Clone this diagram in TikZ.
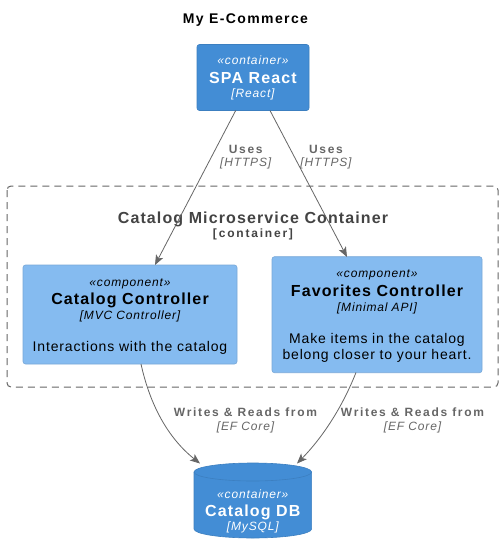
\documentclass[tikz,border=0pt]{standalone}
\usepackage{fontspec}
\setmainfont{Liberation Sans}[LetterSpace=7]
\newfontfamily\relfont{Liberation Sans}[LetterSpace=14]
\newfontfamily\smallbfont{Liberation Sans}[LetterSpace=15]
\newfontfamily\titlefont{Liberation Sans}[LetterSpace=10]
\newfontfamily\descfont{Liberation Sans}[LetterSpace=6]
\usetikzlibrary{arrows.meta}
\definecolor{contblue}{HTML}{438DD5}
\definecolor{contborder}{HTML}{3C7FC0}
\definecolor{compblue}{HTML}{85BBF0}
\definecolor{compborder}{HTML}{78A8D8}
\definecolor{relgray}{HTML}{666666}
\definecolor{bndgray}{HTML}{444444}
\begin{document}
\begin{tikzpicture}[x=1pt,y=-1pt,
  container/.style={draw=contborder,fill=contblue,rounded corners=2.5pt,line width=0.6pt},
  component/.style={draw=compborder,fill=compblue,rounded corners=2.5pt,line width=0.6pt},
  txt/.style={anchor=base,inner sep=0pt,outer sep=0pt},
  stereo/.style={txt,font=\fontsize{12}{14}\selectfont\itshape},
  techn/.style={txt,font=\fontsize{12}{14}\selectfont\itshape},
  bigname/.style={txt,font=\fontsize{16}{19}\selectfont\bfseries},
  desc/.style={txt,font=\fontsize{14}{16}\descfont},
  rellabel/.style={txt,text=relgray,font=\fontsize{12}{14}\relfont\bfseries},
  reltech/.style={txt,text=relgray,font=\fontsize{12}{14}\selectfont\itshape},
  rel/.style={draw=relgray,line width=0.8pt,-{Stealth[length=10pt,width=8pt,inset=2.5pt]}},
  boundary/.style={draw=relgray,line width=1pt,dash pattern=on 7pt off 5pt,rounded corners=4pt}
]
\useasboundingbox (0,0) rectangle (504,555);
\fill[white] (0,0) rectangle (504,555);

% title
\node[txt,font=\fontsize{14}{16}\titlefont\bfseries] (title) at (245.5,23.3) {My E-Commerce};

% boundary
\draw[boundary] (7,186) rectangle (498,387);
\node[txt,text=bndgray,font=\fontsize{16}{19}\selectfont\bfseries] (bndtitle) at (253,223) {Catalog Microservice Container};
\node[txt,text=bndgray,font=\fontsize{12}{14}\smallbfont\bfseries] (bndtype) at (253,237) {[container]};

% SPA React
\node[container,minimum width=112pt,minimum height=66pt,inner sep=0pt] (spa) at (253,77.5) {};
\node[stereo,text=white] (spast) at (253,64) {«container»};
\node[bigname,text=white] (spaname) at (253,83) {SPA React};
\node[techn,text=white] (spatech) at (253,97) {[React]};

% Catalog Controller
\node[component,minimum width=214pt,minimum height=99pt,inner sep=0pt] (cc) at (130,314.5) {};
\node[stereo] (ccst) at (130,286) {«component»};
\node[bigname] (ccname) at (130,304) {Catalog Controller};
\node[techn] (cctech) at (130,319) {[MVC Controller]};
\node[desc] (ccdesc) at (130,351) {Interactions with the catalog};

% Favorites Controller
\node[component,minimum width=210pt,minimum height=116pt,inner sep=0pt] (fc) at (377,314.7) {};
\node[stereo] (fcst) at (377,277.5) {«component»};
\node[bigname] (fcname) at (377,296.5) {Favorites Controller};
\node[techn] (fctech) at (377,311) {[Minimal API]};
\node[desc] (fcdesc1) at (377,343.5) {Make items in the catalog};
\node[desc] (fcdesc2) at (377,359.5) {belong closer to your heart.};

% Catalog DB cylinder (y axis points down: angle 270 is screen-up)
\fill[contblue,draw=contborder,line width=0.6pt]
  (194,472) arc[start angle=180,end angle=360,x radius=58.8,y radius=9]
  -- (311.6,529) arc[start angle=0,end angle=180,x radius=58.8,y radius=9] -- cycle;
\draw[contborder,line width=0.6pt] (194,472) arc[start angle=180,end angle=0,x radius=58.8,y radius=9];
\node[minimum width=117pt,minimum height=75pt,inner sep=0pt] (db) at (252.8,500.5) {};
\node[stereo,text=white] (dbst) at (252.8,498) {«container»};
\node[bigname,text=white] (dbname) at (252.8,516.5) {Catalog DB};
\node[techn,text=white] (dbtech) at (252.8,530.5) {[MySQL]};

% anchor coordinates
\coordinate (spaL) at (235.7,110.5);
\coordinate (spaR) at (270,110.5);
\coordinate (ccT) at (155,265);
\coordinate (fcT) at (347,257);
\coordinate (ccB) at (141,364);
\coordinate (fcB) at (356,372.5);
\coordinate (dbL) at (200,463.5);
\coordinate (dbR) at (297,463.5);

% relations
\draw[rel] (spaL) -- (ccT);
\draw[rel] (spaR) -- (fcT);
\draw[rel] (ccB) .. controls (150,405) and (168,438) .. (dbL);
\draw[rel] (fcB) .. controls (342,408) and (322,438) .. (dbR);

\node[rellabel] (u1) at (245.7,153) {Uses};
\node[reltech] (u1t) at (245.7,166) {[HTTPS]};
\node[rellabel] (u2) at (326,153) {Uses};
\node[reltech] (u2t) at (326,166) {[HTTPS]};
\node[rellabel] (w1) at (245.5,416) {Writes \& Reads from};
\node[reltech] (w1t) at (245.5,430) {[EF Core]};
\node[rellabel] (w2) at (412.5,416) {Writes \& Reads from};
\node[reltech] (w2t) at (412.5,430) {[EF Core]};
\end{tikzpicture}
\end{document}
